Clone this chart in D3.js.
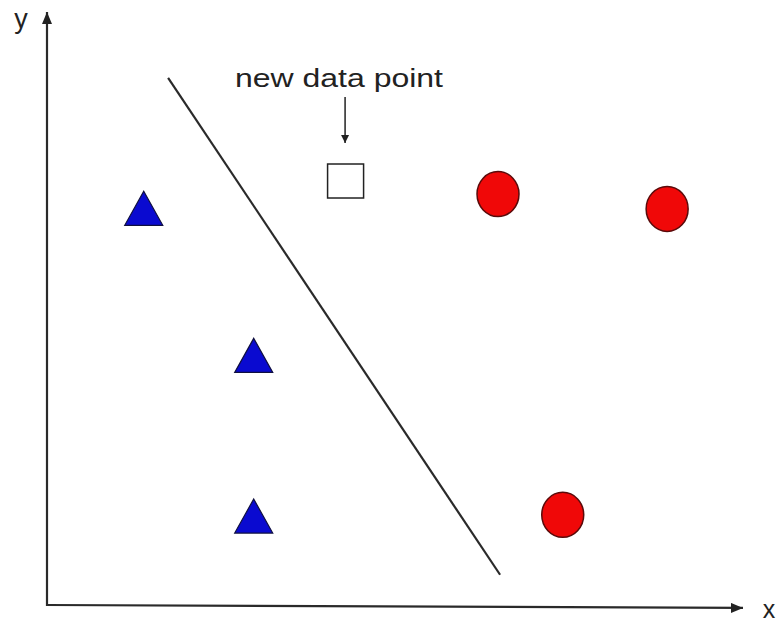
<!DOCTYPE html>
<html>
<head>
<meta charset="utf-8">
<script src="https://cdn.jsdelivr.net/npm/d3@7/dist/d3.min.js"></script>
<style>
  html, body { margin: 0; padding: 0; background: #fff; }
  svg { display: block; }
</style>
</head>
<body>
<svg id="chart" width="779" height="626"></svg>
<script>
// ---- data ----
const triangleX = [13.9, 29.7, 29.7];
const triangleY = [66.9, 42.1, 15.0];
const circleX = [64.8, 89.1, 74.1];
const circleY = [69.3, 66.8, 15.2];
const newPointX = [42.9];
const newPointY = [71.5];
const boundaryX = [17.4, 65.1];
const boundaryY = [88.9, 5.1];
const annotationText = ["new data point"];
const axisLabels = ["x", "y"];

// ---- scales ----
const svg = d3.select("#chart");
const x = d3.scaleLinear().domain([0, 100]).range([47, 743]);
const y = d3.scaleLinear().domain([0, 100]).range([605, 12]);

// ---- arrow markers ----
const defs = svg.append("defs");
defs.append("marker")
  .attr("id", "axisArrow")
  .attr("viewBox", "0 0 12 10")
  .attr("refX", 12).attr("refY", 5)
  .attr("markerWidth", 12).attr("markerHeight", 10)
  .attr("markerUnits", "userSpaceOnUse")
  .attr("orient", "auto")
  .append("path").attr("d", "M0,0 L12,5 L0,10 Z").attr("fill", "#222");
defs.append("marker")
  .attr("id", "smallArrow")
  .attr("viewBox", "0 0 8 10")
  .attr("refX", 8).attr("refY", 5)
  .attr("markerWidth", 8).attr("markerHeight", 10)
  .attr("markerUnits", "userSpaceOnUse")
  .attr("orient", "auto")
  .append("path").attr("d", "M0,1 L8,5 L0,9 Z").attr("fill", "#222");

// ---- axes ----
svg.append("line")
  .attr("x1", x(0)).attr("y1", y(0))
  .attr("x2", x(100)).attr("y2", y(-0.5))
  .attr("stroke", "#2a2a2a").attr("stroke-width", 2.2)
  .attr("marker-end", "url(#axisArrow)");
svg.append("line")
  .attr("x1", x(0)).attr("y1", y(0) + 1)
  .attr("x2", x(0)).attr("y2", y(100))
  .attr("stroke", "#2a2a2a").attr("stroke-width", 2.2)
  .attr("marker-end", "url(#axisArrow)");

svg.append("text")
  .attr("x", 769).attr("y", 618)
  .attr("text-anchor", "middle")
  .attr("font-family", "Liberation Sans, Arial, sans-serif")
  .attr("font-size", 25).attr("fill", "#222")
  .text(axisLabels[0]);
svg.append("text")
  .attr("x", 21).attr("y", 28)
  .attr("text-anchor", "middle")
  .attr("font-family", "Liberation Sans, Arial, sans-serif")
  .attr("font-size", 27).attr("fill", "#222")
  .text(axisLabels[1]);

// ---- boundary line ----
svg.append("line")
  .attr("x1", x(boundaryX[0])).attr("y1", y(boundaryY[0]))
  .attr("x2", x(boundaryX[1])).attr("y2", y(boundaryY[1]))
  .attr("stroke", "#2a2a2a").attr("stroke-width", 2.2);

// ---- triangles ----
const triW = 38, triH = 34;
svg.selectAll("path.tri")
  .data(triangleX.map((v, i) => ({x: v, y: triangleY[i]})))
  .join("path")
  .attr("class", "tri")
  .attr("d", d => {
    const cx = x(d.x), cy = y(d.y);
    return `M${cx},${cy - triH / 2} L${cx + triW / 2},${cy + triH / 2} L${cx - triW / 2},${cy + triH / 2} Z`;
  })
  .attr("fill", "#0a0ad0")
  .attr("stroke", "#101040")
  .attr("stroke-width", 1.2);

// ---- circles ----
svg.selectAll("ellipse.circ")
  .data(circleX.map((v, i) => ({x: v, y: circleY[i]})))
  .join("ellipse")
  .attr("class", "circ")
  .attr("cx", d => x(d.x)).attr("cy", d => y(d.y))
  .attr("rx", 21).attr("ry", 22.5)
  .attr("fill", "#f00808")
  .attr("stroke", "#5a0a0a")
  .attr("stroke-width", 1.5);

// ---- new data point ----
svg.selectAll("rect.newpt")
  .data(newPointX.map((v, i) => ({x: v, y: newPointY[i]})))
  .join("rect")
  .attr("class", "newpt")
  .attr("x", d => x(d.x) - 18).attr("y", d => y(d.y) - 17)
  .attr("width", 36).attr("height", 34)
  .attr("fill", "#fff")
  .attr("stroke", "#222")
  .attr("stroke-width", 1.5);

// ---- annotation ----
svg.append("text")
  .attr("x", 235).attr("y", 87)
  .attr("font-family", "Liberation Sans, Arial, sans-serif")
  .attr("font-size", 25).attr("fill", "#222")
  .attr("textLength", 208)
  .attr("lengthAdjust", "spacingAndGlyphs")
  .text(annotationText[0]);
svg.append("line")
  .attr("x1", x(newPointX[0]) - 0.5).attr("y1", 97)
  .attr("x2", x(newPointX[0]) - 0.5).attr("y2", 143)
  .attr("stroke", "#222").attr("stroke-width", 1.5)
  .attr("marker-end", "url(#smallArrow)");
</script>
</body>
</html>
